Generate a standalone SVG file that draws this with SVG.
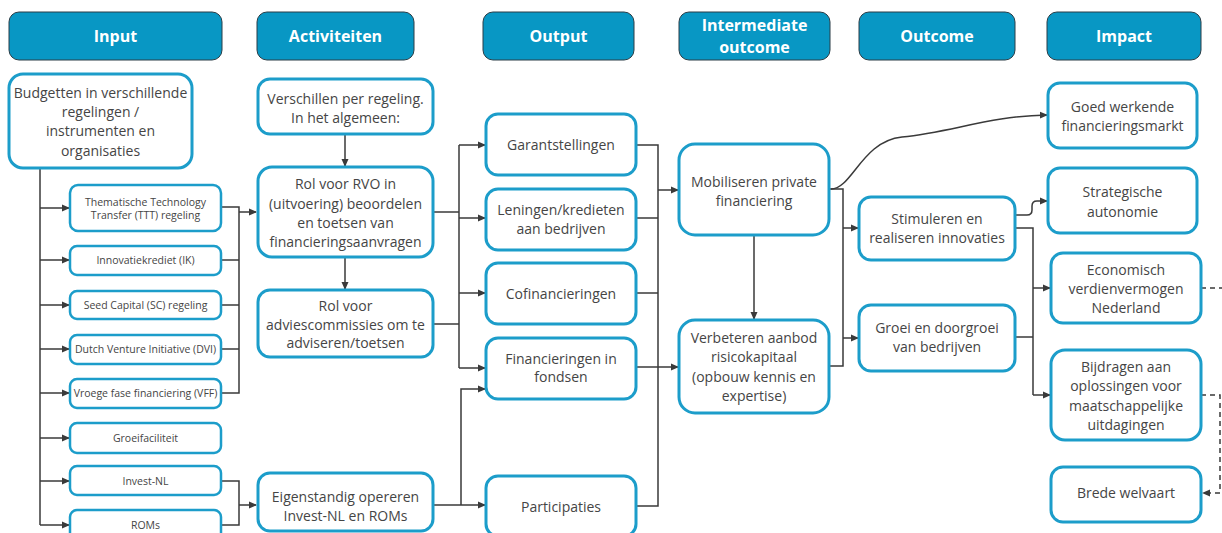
<svg xmlns="http://www.w3.org/2000/svg" width="1222" height="533" viewBox="0 0 1222 533">
<style>
.hdr{fill:#0897c4;stroke:#2b3d46;stroke-width:1}
.ht{font-family:"Open Sans","Liberation Sans",sans-serif;font-weight:bold;font-size:16px;fill:#ffffff;text-anchor:middle}
.nd{fill:#ffffff;stroke:#1c9dca;stroke-width:3}
.sm{fill:#ffffff;stroke:#1c9dca;stroke-width:2.5}
.t{font-family:"Open Sans","Liberation Sans",sans-serif;font-size:14px;fill:#454545;text-anchor:middle}
.ts{font-family:"Open Sans","Liberation Sans",sans-serif;font-size:10.5px;fill:#454545;text-anchor:middle}
.c{fill:none;stroke:#3a3a3a;stroke-width:1.5}
.a{fill:none;stroke:#3a3a3a;stroke-width:1.5;marker-end:url(#ah)}
.d{fill:none;stroke:#3a3a3a;stroke-width:1.5;stroke-dasharray:5 4}
</style>
<defs>
<marker id="ah" markerWidth="8" markerHeight="8" refX="7" refY="4" orient="auto" markerUnits="userSpaceOnUse">
<path d="M0,0.5 L8,4 L0,7.5 Z" fill="#3a3a3a"/>
</marker>
</defs>
<rect width="1222" height="533" fill="#ffffff"/>

<g id="headers">
<g id="h-input"><rect class="hdr" x="9" y="12" width="213" height="48" rx="10"/><text class="ht" x="115.5" y="42">Input</text></g>
<g id="h-activiteiten"><rect class="hdr" x="257" y="12" width="157" height="48" rx="10"/><text class="ht" x="335.5" y="42">Activiteiten</text></g>
<g id="h-output"><rect class="hdr" x="483" y="12" width="151" height="48" rx="10"/><text class="ht" x="558.5" y="42">Output</text></g>
<g id="h-intermediate"><rect class="hdr" x="679" y="12" width="151" height="48" rx="10"/><text class="ht" x="754.5" y="31">Intermediate</text><text class="ht" x="754.5" y="53">outcome</text></g>
<g id="h-outcome"><rect class="hdr" x="859" y="12" width="156" height="48" rx="10"/><text class="ht" x="937" y="42">Outcome</text></g>
<g id="h-impact"><rect class="hdr" x="1047" y="12" width="154" height="48" rx="10"/><text class="ht" x="1124" y="42">Impact</text></g>
</g>

<g id="connectors">
<!-- input trunk -->
<path class="c" d="M40 168 V525"/>
<path class="a" d="M40 208 H69"/>
<path class="a" d="M40 260 H69"/>
<path class="a" d="M40 305 H69"/>
<path class="a" d="M40 349 H69"/>
<path class="a" d="M40 393 H69"/>
<path class="a" d="M40 438 H69"/>
<path class="a" d="M40 481 H69"/>
<path class="a" d="M40 525 H69"/>
<!-- regelingen to RVO -->
<path class="c" d="M221 207 H239 V393 H221"/>
<path class="c" d="M221 260 H239"/>
<path class="c" d="M221 305 H239"/>
<path class="c" d="M221 349 H239"/>
<path class="a" d="M239 212 H256"/>
<!-- Invest-NL / ROMs -->
<path class="c" d="M221 481 H239 V525 H221"/>
<path class="a" d="M239 505 H256"/>
<!-- activities vertical -->
<path class="a" d="M345 134 V166"/>
<path class="a" d="M345 257 V289"/>
<!-- activities to outputs -->
<path class="c" d="M433 212 H459"/>
<path class="c" d="M433 324 H459"/>
<path class="c" d="M459 145 V368"/>
<path class="a" d="M459 145 H485"/>
<path class="a" d="M459 218 H485"/>
<path class="a" d="M459 293 H485"/>
<path class="a" d="M459 368 H485"/>
<path class="c" d="M433 505 H461"/>
<path class="a" d="M461 505 V389 H485"/>
<path class="a" d="M461 505 H485"/>
<!-- outputs to intermediate -->
<path class="c" d="M636 145 H658 V506 H636"/>
<path class="c" d="M636 218 H658"/>
<path class="c" d="M636 293 H658"/>
<path class="c" d="M636 367 H658"/>
<path class="a" d="M658 190 H678"/>
<path class="a" d="M658 367 H678"/>
<!-- intermediate -->
<path class="a" d="M754 235 V319"/>
<path class="c" d="M829 189 H843 V366 H829"/>
<path class="a" d="M843 228 H858"/>
<path class="a" d="M843 338 H858"/>
<path class="a" d="M831 189 C852 189 862 141 902 137 C952 132 990 116 1047 115"/>
<!-- outcome to impact -->
<path class="a" d="M1015 215 H1027 Q1032 215 1032 210 V206 Q1032 201 1037 201 H1047"/>
<path class="c" d="M1015 228 H1033 V395"/>
<path class="c" d="M1015 337 H1033"/>
<path class="a" d="M1033 288 H1050"/>
<path class="a" d="M1033 395 H1050"/>
<!-- dashed -->
<path class="d" d="M1201 288 H1222"/>
<path class="d" d="M1201 395 H1220 V493 H1203" marker-end="url(#ah)"/>
</g>

<g id="n-budgetten"><rect class="nd" x="9" y="74" width="183" height="94" rx="14"/>
<text class="t" x="100.5" y="98">Budgetten in verschillende</text><text class="t" x="100.5" y="117">regelingen /</text><text class="t" x="100.5" y="136">instrumenten en</text><text class="t" x="100.5" y="156">organisaties</text></g>

<g id="n-ttt"><rect class="sm" x="70" y="185" width="151" height="46" rx="8"/><text class="ts" x="145.5" y="206">Thematische Technology</text><text class="ts" x="145.5" y="219">Transfer (TTT) regeling</text></g>
<g id="n-ik"><rect class="sm" x="70" y="246" width="151" height="29" rx="7"/><text class="ts" x="145.5" y="264">Innovatiekrediet (IK)</text></g>
<g id="n-sc"><rect class="sm" x="70" y="291" width="151" height="28" rx="7"/><text class="ts" x="145.5" y="309">Seed Capital (SC) regeling</text></g>
<g id="n-dvi"><rect class="sm" x="70" y="335" width="151" height="29" rx="7"/><text class="ts" x="145.5" y="353">Dutch Venture Initiative (DVI)</text></g>
<g id="n-vff"><rect class="sm" x="70" y="379" width="151" height="29" rx="7"/><text class="ts" x="145.5" y="397">Vroege fase financiering (VFF)</text></g>
<g id="n-groei"><rect class="sm" x="70" y="423" width="151" height="30" rx="7"/><text class="ts" x="145.5" y="442">Groeifaciliteit</text></g>
<g id="n-investnl"><rect class="sm" x="70" y="466" width="151" height="29" rx="7"/><text class="ts" x="145.5" y="485">Invest-NL</text></g>
<g id="n-roms"><rect class="sm" x="70" y="510" width="151" height="30" rx="7"/><text class="ts" x="145.5" y="529">ROMs</text></g>

<g id="n-verschillen"><rect class="nd" x="258" y="79" width="175" height="55" rx="12"/><text class="t" x="345.5" y="104">Verschillen per regeling.</text><text class="t" x="345.5" y="123">In het algemeen:</text></g>
<g id="n-rvo"><rect class="nd" x="258" y="167" width="175" height="90" rx="14"/><text class="t" x="345.5" y="189">Rol voor RVO in</text><text class="t" x="345.5" y="209">(uitvoering) beoordelen</text><text class="t" x="345.5" y="228">en toetsen van</text><text class="t" x="345.5" y="247">financieringsaanvragen</text></g>
<g id="n-advies"><rect class="nd" x="258" y="290" width="175" height="67" rx="12"/><text class="t" x="345.5" y="311">Rol voor</text><text class="t" x="345.5" y="330">adviescommissies om te</text><text class="t" x="345.5" y="348">adviseren/toetsen</text></g>
<g id="n-eigenstandig"><rect class="nd" x="258" y="473" width="175" height="58" rx="12"/><text class="t" x="345.5" y="502">Eigenstandig opereren</text><text class="t" x="345.5" y="521">Invest-NL en ROMs</text></g>

<g id="n-garant"><rect class="nd" x="486" y="114" width="150" height="61" rx="12"/><text class="t" x="561" y="150">Garantstellingen</text></g>
<g id="n-leningen"><rect class="nd" x="486" y="189" width="150" height="61" rx="12"/><text class="t" x="561" y="215">Leningen/kredieten</text><text class="t" x="561" y="234">aan bedrijven</text></g>
<g id="n-cofin"><rect class="nd" x="486" y="263" width="150" height="61" rx="12"/><text class="t" x="561" y="299">Cofinancieringen</text></g>
<g id="n-fondsen"><rect class="nd" x="486" y="338" width="150" height="61" rx="12"/><text class="t" x="561" y="364">Financieringen in</text><text class="t" x="561" y="382">fondsen</text></g>
<g id="n-participaties"><rect class="nd" x="486" y="476" width="150" height="60" rx="12"/><text class="t" x="561" y="512">Participaties</text></g>

<g id="n-mobiliseren"><rect class="nd" x="679" y="144" width="150" height="91" rx="16"/><text class="t" x="754" y="187">Mobiliseren private</text><text class="t" x="754" y="206">financiering</text></g>
<g id="n-verbeteren"><rect class="nd" x="679" y="320" width="150" height="93" rx="16"/><text class="t" x="754" y="343">Verbeteren aanbod</text><text class="t" x="754" y="362">risicokapitaal</text><text class="t" x="754" y="382">(opbouw kennis en</text><text class="t" x="754" y="401">expertise)</text></g>

<g id="n-stimuleren"><rect class="nd" x="859" y="197" width="156" height="63" rx="12"/><text class="t" x="937" y="224">Stimuleren en</text><text class="t" x="937" y="243">realiseren innovaties</text></g>
<g id="n-groeidoor"><rect class="nd" x="859" y="305" width="156" height="66" rx="12"/><text class="t" x="937" y="333">Groei en doorgroei</text><text class="t" x="937" y="352">van bedrijven</text></g>

<g id="n-goed"><rect class="nd" x="1048" y="83" width="149" height="65" rx="12"/><text class="t" x="1122.5" y="112">Goed werkende</text><text class="t" x="1122.5" y="131">financieringsmarkt</text></g>
<g id="n-strategische"><rect class="nd" x="1048" y="168" width="149" height="65" rx="12"/><text class="t" x="1122.5" y="197">Strategische</text><text class="t" x="1122.5" y="217">autonomie</text></g>
<g id="n-economisch"><rect class="nd" x="1051" y="253" width="150" height="70" rx="12"/><text class="t" x="1126" y="275">Economisch</text><text class="t" x="1126" y="294">verdienvermogen</text><text class="t" x="1126" y="313">Nederland</text></g>
<g id="n-bijdragen"><rect class="nd" x="1051" y="350" width="150" height="90" rx="14"/><text class="t" x="1126" y="372">Bijdragen aan</text><text class="t" x="1126" y="391">oplossingen voor</text><text class="t" x="1126" y="411">maatschappelijke</text><text class="t" x="1126" y="430">uitdagingen</text></g>
<g id="n-brede"><rect class="nd" x="1051" y="467" width="150" height="55" rx="12"/><text class="t" x="1126" y="498">Brede welvaart</text></g>
</svg>
